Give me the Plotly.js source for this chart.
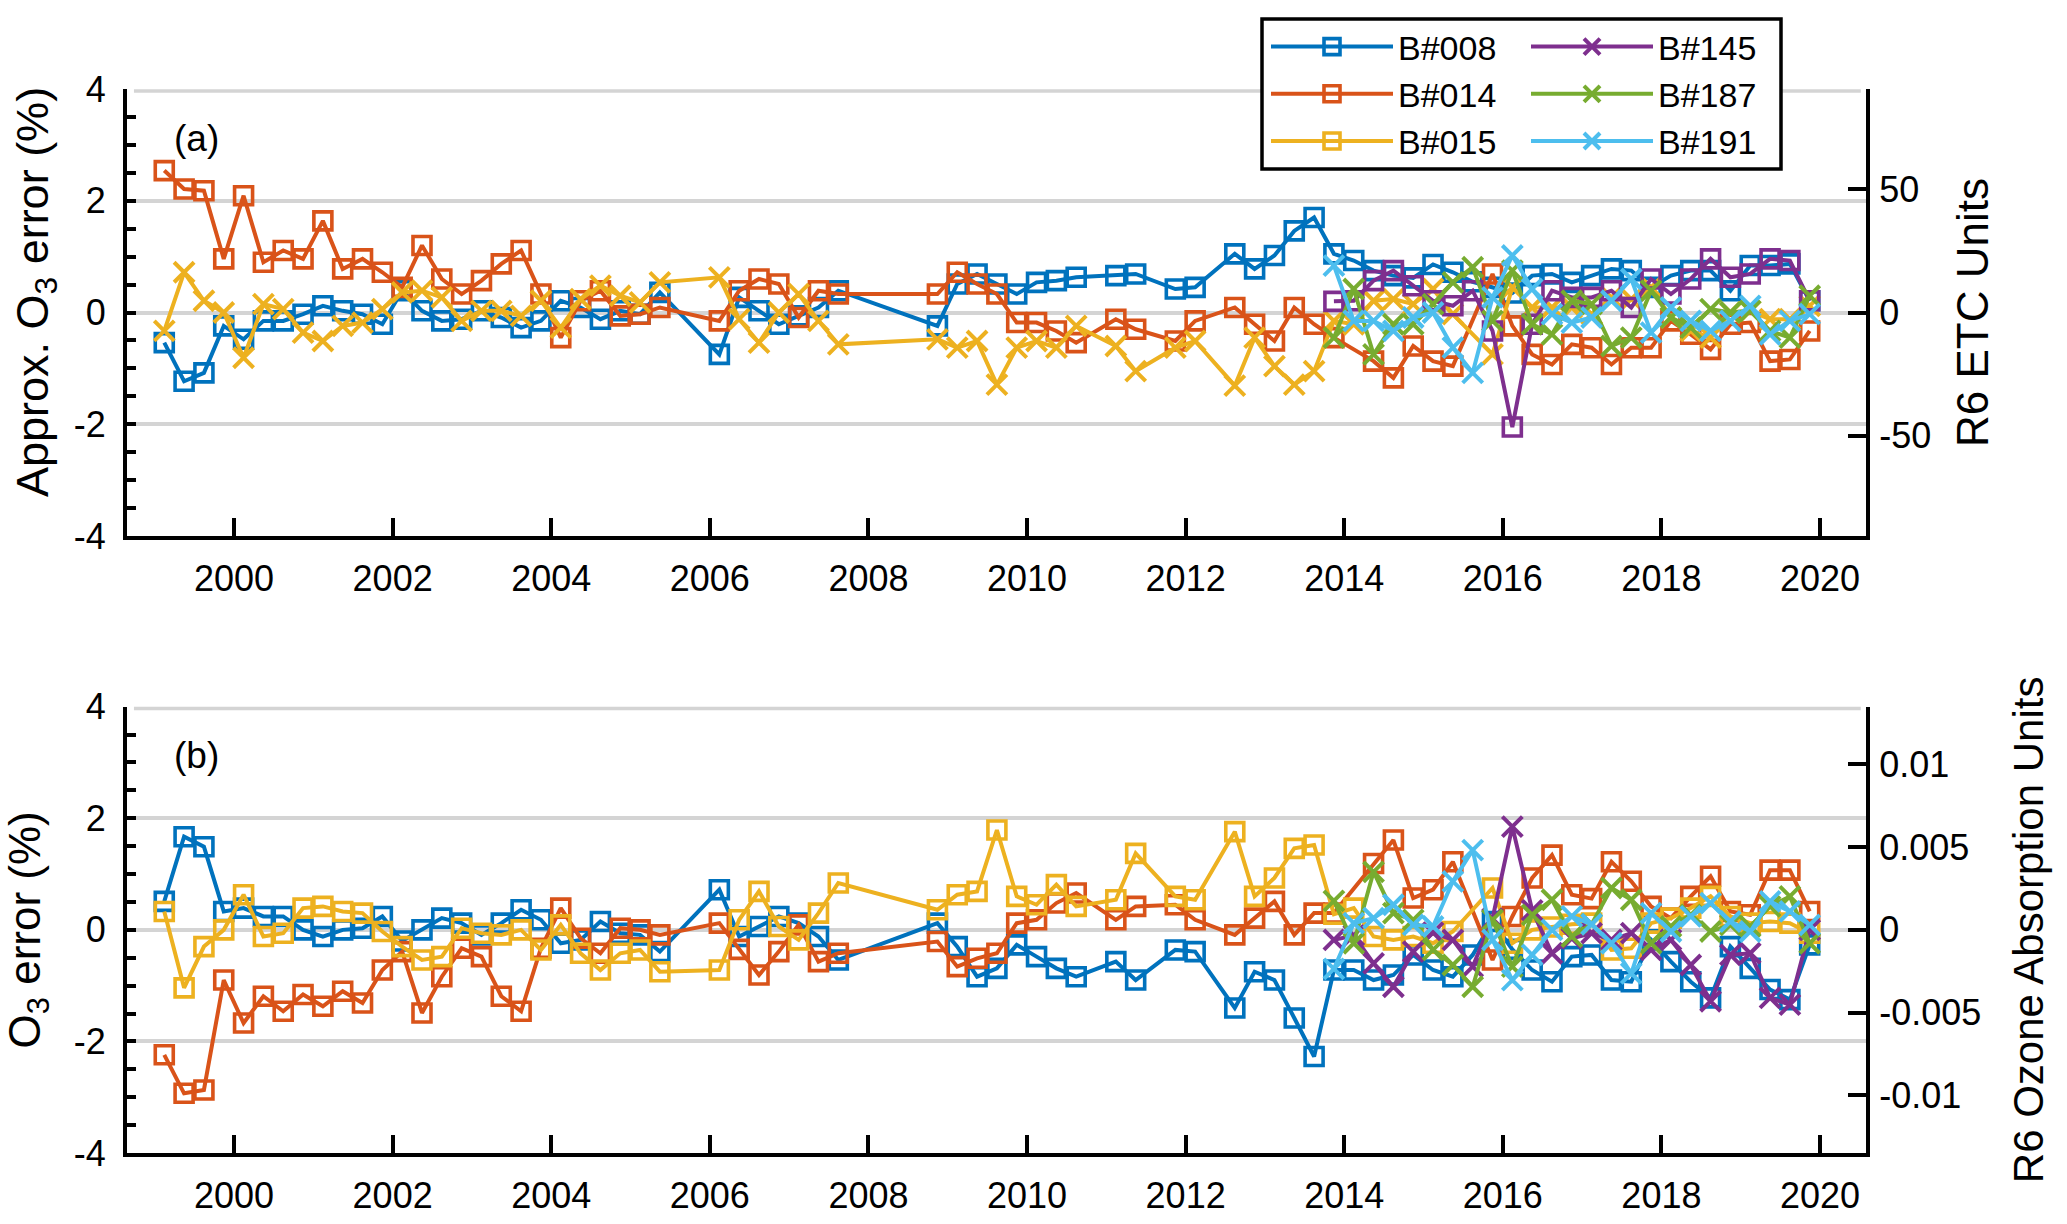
<!DOCTYPE html>
<html><head><meta charset="utf-8">
<script src="https://cdn.plot.ly/plotly-3.0.1.min.js"></script>
<style>html,body{margin:0;padding:0;background:#fff}#chart{width:2067px;height:1224px}</style>
</head><body><div id="chart"></div>
<script>
// Observation dates (decimal years)
const earlyDates = [1999.12,1999.37,1999.62,1999.87, 2000.12,2000.37,2000.62,2000.87, 2001.12,2001.37,2001.62,2001.87,
  2002.12,2002.37,2002.62,2002.87, 2003.12,2003.37,2003.62,2003.87, 2004.12,2004.37,2004.62,2004.87, 2005.12,2005.37,
  2006.12,2006.37,2006.62,2006.87, 2007.12,2007.37,2007.62, 2008.87, 2009.12,2009.37,2009.62,2009.87,
  2010.12,2010.37,2010.62, 2011.12,2011.37,2011.87, 2012.12,2012.62,2012.87, 2013.12,2013.37,2013.62];
const lateDates = [2013.87, 2014.12,2014.37,2014.62,2014.87, 2015.12,2015.37,2015.62,2015.87,
  2016.12,2016.37,2016.62,2016.87, 2017.12,2017.37,2017.62,2017.87, 2018.12,2018.37,2018.62,2018.87,
  2019.12,2019.37,2019.62,2019.87];

const names = ['B#008','B#014','B#015','B#145','B#187','B#191'];
const colors = ['#0072BD','#D95319','#EDB120','#7E2F8E','#77AC30','#4DBEEE'];

// Panel (a): approx. O3 error (%) from ETC
const a_b008 = [-0.54,-1.23,-1.08,-0.24, -0.48,-0.15,-0.15,-0.03, 0.12,0.03,-0.03,-0.21, 0.39,0.03,-0.15,-0.12,
  0.03,-0.09,-0.27,-0.15, 0.21,0.09,-0.12,0.03, -0.03,0.36, -0.75,0.27,0.03,-0.21, -0.06,0.09,0.39, -0.24,
  0.51,0.69,0.51,0.33, 0.54,0.57,0.63, 0.66,0.69,0.42, 0.45,1.05,0.78, 1.02,1.46,1.70,
  1.05, 0.93,0.75,0.66,0.62, 0.86,0.72,0.55,0.45, 0.35,0.66,0.69,0.54, 0.66,0.78,0.75,0.45, 0.66,0.75,0.75,0.39, 0.84,0.84,0.87,0.21];
const a_b014 = [2.54,2.21,2.18,0.96, 2.09,0.90,1.11,0.96, 1.64,0.78,0.96,0.72, 0.45,1.20,0.60,0.33,
  0.57,0.87,1.11,0.33, -0.45,0.21,0.39,-0.06, -0.03,0.09, -0.15,0.39,0.60,0.51, -0.09,0.39,0.33, 0.33,
  0.72,0.51,0.33,-0.18, -0.18,-0.33,-0.54, -0.12,-0.30,-0.51, -0.15,0.09,-0.21, -0.51,0.09,-0.21,
  -0.45, null,-0.87,-1.17,-0.60, -0.87,-0.96,null,0.69, -0.24,-0.75,-0.93,-0.57, -0.63,-0.93,-0.63,-0.63, -0.15,-0.39,-0.66,-0.21, -0.18,-0.87,-0.84,-0.33];
const a_b015 = [-0.33,0.72,0.21,0.00, -0.81,0.15,0.06,-0.36, -0.51,-0.24,-0.18,0.06, 0.36,0.39,0.27,-0.15,
  0.03,0.03,-0.06,0.21, -0.27,0.24,0.48,0.30, 0.18,0.54, 0.63,-0.12,-0.54,0.00, 0.33,-0.15,-0.57, -0.48,
  -0.63,-0.51,-1.29,-0.63, -0.51,-0.63,-0.24, -0.60,-1.05,-0.63, -0.51,-1.31,-0.45, -0.96,-1.29,-1.05,
  -0.15, -0.21,0.21,0.24,0.15, 0.42,-0.03,null,-0.75, 0.45,0.09,0.09,0.09, -0.03,0.27,0.24,0.45, -0.09,-0.33,-0.45,0.00, 0.03,-0.12,-0.12,0.12];
const a_b145 = [0.20, 0.21,0.57,0.75,0.48, 0.21,0.12,0.39,-0.33, -2.05,-0.21,0.39,0.27, 0.27,0.39,0.09,0.60, 0.33,0.60,0.96,0.63, 0.69,0.96,0.93,0.21];
const a_b187 = [-0.45, 0.42,-0.75,-0.21,-0.21, 0.15,0.54,0.81,-0.15, 0.75,-0.21,-0.39,0.21, 0.15,-0.60,-0.45,0.39, -0.09,-0.27,0.06,0.00, 0.03,-0.33,-0.45,0.30];
const a_b191 = [0.84, -0.15,-0.15,-0.33,-0.09, 0.00,-0.63,-1.08,0.27, 1.02,0.42,-0.03,-0.18, -0.09,0.21,0.60,-0.36, 0.09,-0.15,-0.33,-0.15, 0.12,-0.39,-0.15,-0.03];

// Panel (b): O3 error (%) from ozone absorption
const b_b008 = [0.51,1.67,1.49,0.33, 0.39,0.24,0.24,0.00, -0.12,0.00,0.03,0.24, -0.20,0.00,0.21,0.12,
  -0.09,0.12,0.36,0.18, -0.24,-0.18,0.15,-0.06, -0.09,-0.39, 0.72,-0.12,0.06,0.24, 0.12,-0.12,-0.54, 0.12,
  -0.30,-0.84,-0.69,-0.27, -0.48,-0.69,-0.84, -0.57,-0.90,-0.36, -0.39,-1.40,-0.75, -0.90,-1.58,-2.27,
  -0.72, -0.72,-0.90,-0.81,-0.45, -0.72,-0.84,-0.45,0.15, -0.35,-0.72,-0.93,-0.48, -0.45,-0.90,-0.93,-0.18, -0.57,-0.93,-1.22,-0.30, -0.69,-1.07,-1.25,-0.27];
const b_b014 = [-2.24,-2.93,-2.87,-0.90, -1.67,-1.19,-1.46,-1.16, -1.37,-1.10,-1.31,-0.72, -0.39,-1.49,-0.84,-0.33,
  -0.48,-1.19,-1.46,-0.33, 0.39,-0.15,-0.42,0.03, 0.00,-0.09, 0.12,-0.35,-0.81,-0.39, 0.09,-0.57,-0.42, -0.21,
  -0.66,-0.51,-0.42,0.12, 0.18,0.48,0.66, 0.18,0.42,0.45, 0.18,-0.09,0.21, 0.51,-0.09,0.30,
  0.30, null,1.19,1.61,0.57, 0.72,1.22,null,-0.54, 0.24,0.93,1.34,0.63, 0.56,1.22,0.87,0.42, 0.21,0.60,0.96,0.33, 0.27,1.07,1.07,0.33];
const b_b015 = [0.33,-1.04,-0.30,0.00, 0.63,-0.12,-0.06,0.39, 0.42,0.33,0.30,-0.03, -0.30,-0.54,-0.48,0.03,
  -0.06,-0.09,0.00,-0.36, 0.09,-0.42,-0.72,-0.42, -0.36,-0.75, -0.72,0.18,0.69,0.06, -0.18,0.30,0.84, 0.36,
  0.63,0.69,1.79,0.60, 0.45,0.81,0.42, 0.54,1.37,0.60, 0.54,1.76,0.60, 0.93,1.46,1.52,
  0.28, 0.39,-0.12,-0.18,-0.12, -0.24,-0.03,null,0.75, -0.24,0.00,0.05,0.10, 0.12,-0.36,-0.33,0.12, 0.21,0.39,0.60,0.24, 0.12,0.15,0.12,-0.06];
const b_b145 = [-0.18, -0.10,-0.60,-1.02,-0.39, -0.05,-0.18,-0.66,0.20, 1.85,0.35,-0.42,-0.15, -0.06,-0.18,-0.06,-0.36, -0.18,-0.63,-1.28,-0.45, -0.42,-1.22,-1.34,0.00];
const b_b187 = [0.52, -0.24,1.04,0.30,0.18, -0.36,-0.63,-1.02,0.18, -0.66,0.27,0.54,-0.12, 0.10,0.75,0.54,-0.24, 0.06,0.27,-0.03,0.09, 0.06,0.42,0.60,-0.24];
const b_b191 = [-0.70, 0.12,0.21,0.45,0.09, 0.06,0.87,1.43,-0.18, -0.90,-0.45,0.00,0.24, 0.10,-0.24,-0.78,0.30, -0.03,0.24,0.48,0.15, -0.03,0.51,0.33,0.09];

// Axis tick values / labels
const yearTicks = [2000,2002,2004,2006,2008,2010,2012,2014,2016,2018,2020];
const leftTicks = [-4,-2,0,2,4];
const leftTickText = ['-4','-2','0','2','4'];
const etcTicks = [-50,0,50];
const etcTickText = ['-50','0','50'];
const absTicks = [-0.01,-0.005,0,0.005,0.01];
const absTickText = ['-0.01','-0.005','0','0.005','0.01'];

const allDates = earlyDates.concat(lateDates);
const FONT = '"Liberation Sans", Arial, Helvetica, sans-serif';

function tr(xs, ys, idx, sym, xa, ya, legendName, show) {
  const isX = sym === 'x';
  return {
    type:'scatter', mode:'lines+markers', x:xs, y:ys, xaxis:xa, yaxis:ya,
    name:names[idx], connectgaps:true, showlegend:show, legend:legendName,
    line:{color:colors[idx], width:4},
    marker:{symbol: isX ? 'x-thin-open' : 'square-open', size: isX ? 20 : 18,
            color:colors[idx], line:{color:colors[idx], width: isX ? 4 : 3.6}},
    hoverinfo:'x+y+name'
  };
}

const data = [
  tr(allDates, a_b008, 0, 'sq', 'x', 'y', 'legend', false),
  tr(allDates, a_b014, 1, 'sq', 'x', 'y', 'legend', false),
  tr(allDates, a_b015, 2, 'x',  'x', 'y', 'legend', false),
  tr(lateDates, a_b145, 3, 'sq', 'x', 'y', 'legend2', false),
  tr(lateDates, a_b187, 4, 'x',  'x', 'y', 'legend2', false),
  tr(lateDates, a_b191, 5, 'x',  'x', 'y', 'legend2', false),
  tr(allDates, b_b008, 0, 'sq', 'x2', 'y3', 'legend', true),
  tr(allDates, b_b014, 1, 'sq', 'x2', 'y3', 'legend', true),
  tr(allDates, b_b015, 2, 'sq', 'x2', 'y3', 'legend', true),
  tr(lateDates, b_b145, 3, 'x', 'x2', 'y3', 'legend2', true),
  tr(lateDates, b_b187, 4, 'x', 'x2', 'y3', 'legend2', true),
  tr(lateDates, b_b191, 5, 'x', 'x2', 'y3', 'legend2', true),
  // empty traces so the right-hand unit axes are created
  {type:'scatter', mode:'lines', x:[], y:[], xaxis:'x', yaxis:'y2', showlegend:false, hoverinfo:'skip'},
  {type:'scatter', mode:'lines', x:[], y:[], xaxis:'x2', yaxis:'y4', showlegend:false, hoverinfo:'skip'}
];

const W = 2067, H = 1224;
const mL = 127, mR = 201, mT = 89, mB = 71;
const plotW = W - mL - mR, plotH = H - mT - mB;
const py = (pix) => (H - mB - pix) / plotH;     // pixel y -> paper y
const px = (pix) => (pix - mL) / plotW;         // pixel x -> paper x
const GRID = '#d4d4d4';

const xBase = {
  range:[1998.65, 2020.58], tickvals:yearTicks, ticks:'inside', ticklen:18, tickwidth:4, tickcolor:'#000',
  showline:true, linewidth:4, linecolor:'#000', showgrid:false, zeroline:false, automargin:false,
  tickfont:{size:36, color:'#000', family:FONT}, ticklabelstandoff:8
};
const yLeftBase = {
  range:[-4,4], tickvals:leftTicks, ticktext:leftTickText, ticks:'inside', ticklen:9, tickwidth:4, tickcolor:'#000',
  minor:{dtick:0.5, tick0:0, ticks:'inside', ticklen:9, tickwidth:4, tickcolor:'#000', showgrid:false},
  showline:true, linewidth:4, linecolor:'#000', showgrid:true, gridcolor:GRID, gridwidth:3.5,
  zeroline:false, automargin:false, tickfont:{size:36, color:'#000', family:FONT}, ticklabelstandoff:10
};
const yRightBase = {
  side:'right', ticks:'inside', ticklen:18, tickwidth:4, tickcolor:'#000',
  showline:true, linewidth:4, linecolor:'#000', showgrid:false, zeroline:false, automargin:false,
  tickfont:{size:36, color:'#000', family:FONT}, ticklabelstandoff:2
};

const topDom = [py(536), 1];
const botDom = [0, py(706.7)];

const layout = {
  width:W, height:H,
  margin:{l:mL, r:mR, t:mT, b:mB, pad:0},
  paper_bgcolor:'#ffffff', plot_bgcolor:'rgba(0,0,0,0)',
  font:{family:FONT, color:'#000', size:36},
  showlegend:true, hovermode:'closest',
  xaxis:Object.assign({}, xBase, {domain:[0,1], anchor:'y'}),
  yaxis:Object.assign({}, yLeftBase, {domain:topDom, anchor:'x'}),
  yaxis2:Object.assign({}, yRightBase, {overlaying:'y', anchor:'x', range:[-90.7,90.7],
    tickvals:etcTicks, ticktext:etcTickText,
    title:{text:'R6 ETC Units', font:{size:44, family:FONT, color:'#000'}, standoff:28}}),
  xaxis2:Object.assign({}, xBase, {domain:[0,1], anchor:'y3'}),
  yaxis3:Object.assign({}, yLeftBase, {domain:botDom, anchor:'x2',
    title:{text:'O<sub>3</sub> error (%)', font:{size:44, family:FONT, color:'#000'}, standoff:22}}),
  yaxis4:Object.assign({}, yRightBase, {overlaying:'y3', anchor:'x2', range:[-0.01348,0.01348],
    tickvals:absTicks, ticktext:absTickText,
    title:{text:'R6 Ozone Absorption Units', font:{size:42, family:FONT, color:'#000'}, standoff:34}}),
  legend:{x:px(1266), y:py(18), xanchor:'left', yanchor:'top', orientation:'v',
    bgcolor:'rgba(255,255,255,0)', borderwidth:0, font:{size:34, family:FONT, color:'#000'},
    itemwidth:122, tracegroupgap:0, traceorder:'normal'},
  legend2:{x:px(1526), y:py(18), xanchor:'left', yanchor:'top', orientation:'v',
    bgcolor:'rgba(255,255,255,0)', borderwidth:0, font:{size:34, family:FONT, color:'#000'},
    itemwidth:122, tracegroupgap:0, traceorder:'normal'},
  shapes:[
    // top gridline of each panel (Plotly omits grid lines on the range edge)
    {type:'line', xref:'paper', yref:'paper', x0:0.004, x1:0.997, y0:1-0.0018, y1:1-0.0018,
     line:{color:GRID, width:3.5}, layer:'above'},
    {type:'line', xref:'paper', yref:'paper', x0:0.004, x1:0.997, y0:botDom[1]-0.0018, y1:botDom[1]-0.0018,
     line:{color:GRID, width:3.5}, layer:'above'},
    // legend frame
    {type:'rect', xref:'paper', yref:'paper', x0:px(1262), x1:px(1781), y0:py(169), y1:py(19),
     line:{color:'#000', width:3.5}, fillcolor:'#ffffff', layer:'above'}
  ],
  annotations:[
    {text:'Approx. O<sub>3</sub> error (%)', xref:'paper', yref:'paper', x:px(35), y:py(292),
     xanchor:'center', yanchor:'middle', textangle:-90, showarrow:false,
     font:{size:45, family:FONT, color:'#000'}},
    {text:'(a)', xref:'paper', yref:'paper', x:px(172), y:py(139), xanchor:'left', yanchor:'middle',
     showarrow:false, font:{size:37, family:FONT, color:'#000'}},
    {text:'(b)', xref:'paper', yref:'paper', x:px(172), y:py(755), xanchor:'left', yanchor:'middle',
     showarrow:false, font:{size:37, family:FONT, color:'#000'}}
  ]
};

Plotly.newPlot('chart', data, layout, {displayModeBar:false, responsive:false});
</script>
</body></html>
